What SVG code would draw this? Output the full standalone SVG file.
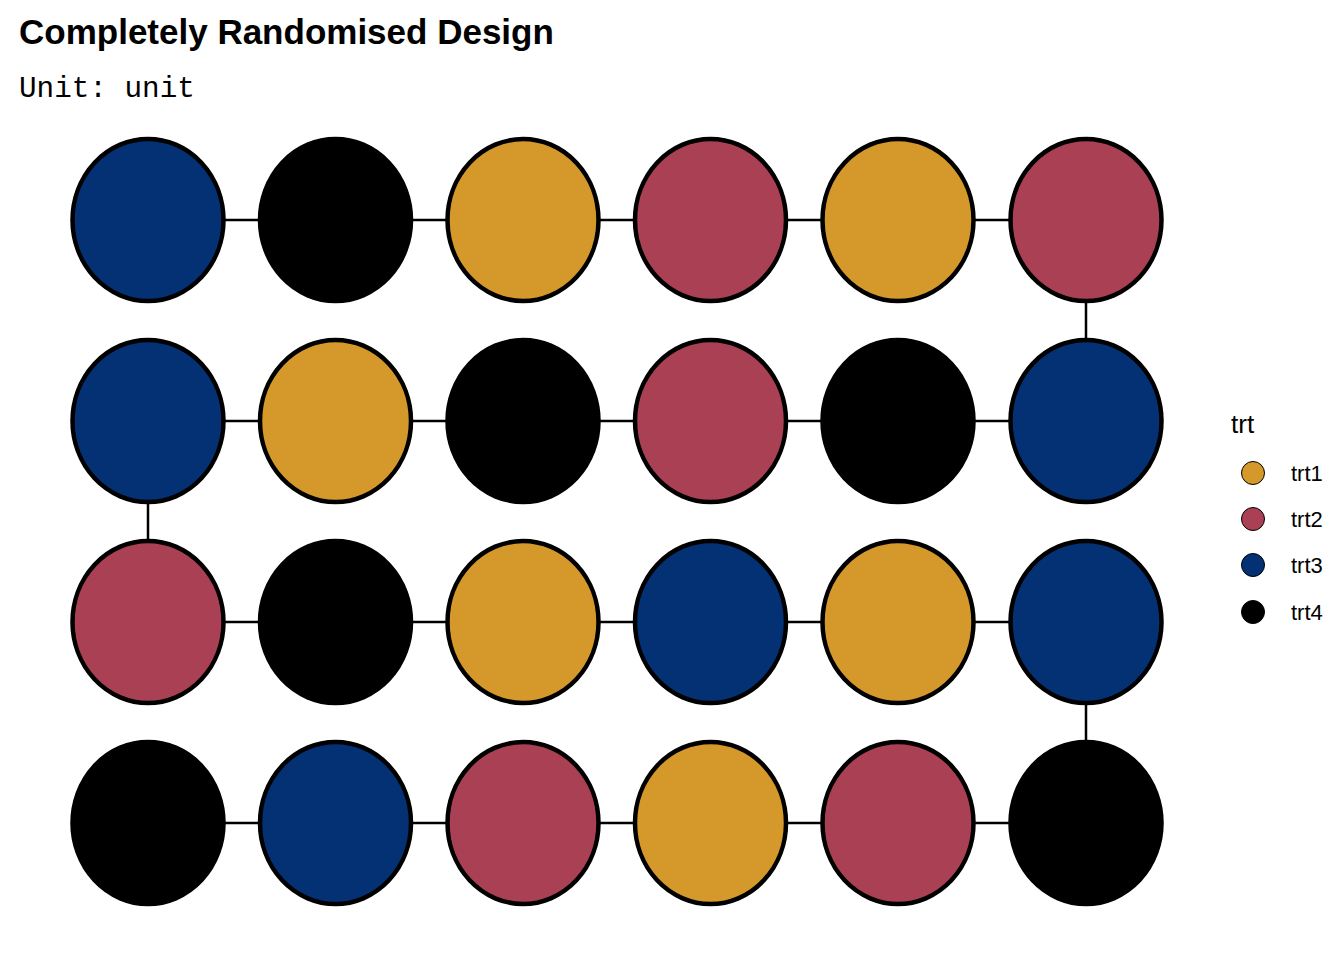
<svg xmlns="http://www.w3.org/2000/svg" width="1344" height="960" viewBox="0 0 1344 960">
<style>
.u{stroke:#000;stroke-width:4.5}
.t1{fill:#D4992A}.t2{fill:#A94054}.t3{fill:#043174}.t4{fill:#000}
.ln{stroke:#000;stroke-width:2.5;fill:none}
.lg{stroke:#000;stroke-width:1}
.title{font-family:"Liberation Sans",Arial,sans-serif;font-weight:bold;font-size:35px}
.sub{font-family:"Liberation Mono","Courier New",monospace;font-size:29.3px}
.lt{font-family:"Liberation Sans",Arial,sans-serif;font-size:26px}
.ll{font-family:"Liberation Sans",Arial,sans-serif;font-size:22px}
</style>
<rect width="1344" height="960" fill="#fff"/>
<text class="title" x="19" y="44">Completely Randomised Design</text>
<text class="sub" x="19" y="97">Unit: unit</text>
<g id="connectors">
<path class="ln" d="M148 220H1086M148 421H1086M148 622H1086M148 823H1086M1086 220V421M148 421V622M1086 622V823"/>
</g>
<defs>
<ellipse id="c" rx="75.5" ry="81"/>
</defs>
<g id="row1">
<use id="u1" href="#c" x="148" y="220" class="u t3"/>
<use id="u2" href="#c" x="335.5" y="220" class="u t4"/>
<use id="u3" href="#c" x="523" y="220" class="u t1"/>
<use id="u4" href="#c" x="710.5" y="220" class="u t2"/>
<use id="u5" href="#c" x="898" y="220" class="u t1"/>
<use id="u6" href="#c" x="1086" y="220" class="u t2"/>
</g>
<g id="row2">
<use id="u7" href="#c" x="148" y="421" class="u t3"/>
<use id="u8" href="#c" x="335.5" y="421" class="u t1"/>
<use id="u9" href="#c" x="523" y="421" class="u t4"/>
<use id="u10" href="#c" x="710.5" y="421" class="u t2"/>
<use id="u11" href="#c" x="898" y="421" class="u t4"/>
<use id="u12" href="#c" x="1086" y="421" class="u t3"/>
</g>
<g id="row3">
<use id="u13" href="#c" x="148" y="622" class="u t2"/>
<use id="u14" href="#c" x="335.5" y="622" class="u t4"/>
<use id="u15" href="#c" x="523" y="622" class="u t1"/>
<use id="u16" href="#c" x="710.5" y="622" class="u t3"/>
<use id="u17" href="#c" x="898" y="622" class="u t1"/>
<use id="u18" href="#c" x="1086" y="622" class="u t3"/>
</g>
<g id="row4">
<use id="u19" href="#c" x="148" y="823" class="u t4"/>
<use id="u20" href="#c" x="335.5" y="823" class="u t3"/>
<use id="u21" href="#c" x="523" y="823" class="u t2"/>
<use id="u22" href="#c" x="710.5" y="823" class="u t1"/>
<use id="u23" href="#c" x="898" y="823" class="u t2"/>
<use id="u24" href="#c" x="1086" y="823" class="u t4"/>
</g>
<g id="legend">
<text class="lt" x="1231" y="433">trt</text>
<circle class="lg t1" cx="1253" cy="473" r="11.5"/>
<circle class="lg t2" cx="1253" cy="519" r="11.5"/>
<circle class="lg t3" cx="1253" cy="565" r="11.5"/>
<circle class="lg t4" cx="1253" cy="612" r="11.5"/>
<text class="ll" x="1291" y="481">trt1</text>
<text class="ll" x="1291" y="527">trt2</text>
<text class="ll" x="1291" y="573">trt3</text>
<text class="ll" x="1291" y="620">trt4</text>
</g>
</svg>
